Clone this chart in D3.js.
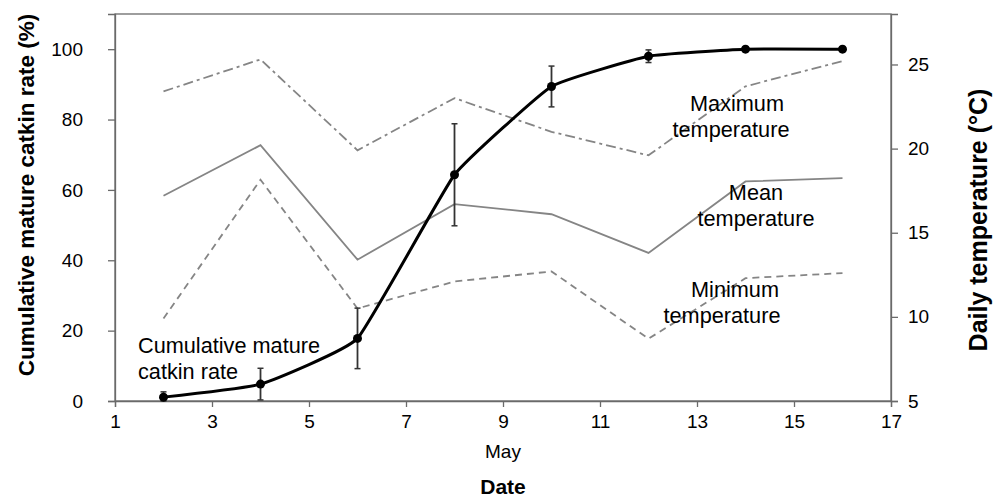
<!DOCTYPE html>
<html>
<head>
<meta charset="utf-8">
<script src="https://cdn.jsdelivr.net/npm/d3@7"></script>
<style>
  body { margin: 0; background: #fff; }
  text { font-family: "Liberation Sans", Arial, sans-serif; fill: #000; }
</style>
</head>
<body>
<svg id="chart" width="994" height="497"></svg>
<script>
// ---- data ----
const days = [2, 4, 6, 8, 10, 12, 14, 16];
const catkinRate = [1.1, 4.8, 17.8, 64.3, 89.4, 98.0, 100, 100];
const catkinErr = [1.5, 4.5, 8.6, 14.5, 5.8, 1.8, 0.6, 0.6];
const maxTemp = [23.4, 25.3, 19.9, 23.0, 21.0, 19.6, 23.7, 25.2];
const meanTemp = [17.2, 20.2, 13.4, 16.7, 16.1, 13.8, 18.05, 18.25];
const minTemp = [9.9, 18.15, 10.5, 12.1, 12.7, 8.7, 12.3, 12.6];
const xTicks = [1, 3, 5, 7, 9, 11, 13, 15, 17];
const yLeftTicks = [0, 20, 40, 60, 80, 100];
const yRightTicks = [5, 10, 15, 20, 25];

const svg = d3.select("#chart");
const L = 115, R = 891, T = 14, B = 401;

const x = d3.scaleLinear().domain([1, 17]).range([L, R]);
const yL = d3.scaleLinear().domain([0, 110]).range([B, T]);
const yR = d3.scaleLinear().domain([5, 28]).range([B, T]);

const axisColor = "#6a6a6a";

// plot frame
svg.append("rect").attr("x", L).attr("y", T).attr("width", R - L).attr("height", B - T)
  .attr("fill", "none").attr("stroke", axisColor).attr("stroke-width", 1.3);

// axes
const xAxis = svg.append("g").attr("transform", `translate(0,${B})`)
  .call(d3.axisBottom(x).tickValues(xTicks).tickSize(6).tickPadding(8));
const yAxisL = svg.append("g").attr("transform", `translate(${L},0)`)
  .call(d3.axisLeft(yL).tickValues(yLeftTicks).tickSize(7).tickPadding(32));
const yAxisR = svg.append("g").attr("transform", `translate(${R},0)`)
  .call(d3.axisRight(yR).tickValues(yRightTicks).tickSize(7).tickPadding(10));

[xAxis, yAxisL, yAxisR].forEach(g => {
  g.select(".domain").attr("stroke", axisColor).attr("stroke-width", 1.3);
  g.selectAll(".tick line").attr("stroke", axisColor).attr("stroke-width", 1.3);
  g.selectAll(".tick text").attr("font-size", 19).attr("fill", "#111")
    .style("font-family", "'Liberation Sans', Arial, sans-serif");
});
yAxisL.selectAll(".tick text").attr("text-anchor", "end").attr("x", -32);
xAxis.selectAll(".tick text").attr("dy", "0.71em");

// temperature lines
const lineR = d3.line().x((d, i) => x(days[i])).y(d => yR(d));
const tempColor = "#858585";
svg.append("path").datum(maxTemp).attr("d", lineR).attr("fill", "none")
  .attr("stroke", tempColor).attr("stroke-width", 1.8).attr("stroke-dasharray", "10,4,3,4");
svg.append("path").datum(meanTemp).attr("d", lineR).attr("fill", "none")
  .attr("stroke", tempColor).attr("stroke-width", 1.8);
svg.append("path").datum(minTemp).attr("d", lineR).attr("fill", "none")
  .attr("stroke", tempColor).attr("stroke-width", 1.8).attr("stroke-dasharray", "7,5");

// error bars
const eb = svg.append("g");
days.forEach((d, i) => {
  const cx = x(d);
  const lo = Math.max(0, catkinRate[i] - catkinErr[i]);
  const hi = catkinRate[i] + catkinErr[i];
  eb.append("line").attr("x1", cx).attr("x2", cx).attr("y1", yL(lo)).attr("y2", yL(hi))
    .attr("stroke", "#333").attr("stroke-width", 1.8);
  [lo, hi].forEach(v => eb.append("line").attr("x1", cx - 3).attr("x2", cx + 3)
    .attr("y1", yL(v)).attr("y2", yL(v)).attr("stroke", "#333").attr("stroke-width", 1.5));
});

// catkin line
const lineL = d3.line().x((d, i) => x(days[i])).y(d => yL(d)).curve(d3.curveCardinal.tension(0.65));
svg.append("path").datum(catkinRate).attr("d", lineL).attr("fill", "none")
  .attr("stroke", "#000").attr("stroke-width", 3);
svg.selectAll("circle.pt").data(catkinRate).enter().append("circle")
  .attr("cx", (d, i) => x(days[i])).attr("cy", d => yL(d)).attr("r", 4.5).attr("fill", "#000");

// in-plot labels
function label(lines, anchorX, baseY, anchor) {
  lines.forEach((t, i) => {
    svg.append("text").attr("x", Array.isArray(anchorX) ? anchorX[i] : anchorX)
      .attr("y", baseY + i * 26).attr("font-size", 21.7)
      .attr("text-anchor", anchor || "middle").text(t);
  });
}
label(["Cumulative mature", "catkin rate"], 138, 353, "start");
label(["Maximum", "temperature"], [737, 731], 111);
label(["Mean", "temperature"], 756, 200);
label(["Minimum", "temperature"], [735, 722], 297);

// axis titles
svg.append("text").attr("x", 503).attr("y", 458).attr("font-size", 19)
  .attr("text-anchor", "middle").text("May");
svg.append("text").attr("x", 503).attr("y", 494).attr("font-size", 21).attr("font-weight", "bold")
  .attr("text-anchor", "middle").text("Date");
svg.append("text").attr("transform", "translate(34,195) rotate(-90)").attr("font-size", 22.5)
  .attr("font-weight", "bold").attr("text-anchor", "middle").text("Cumulative mature catkin rate (%)");
svg.append("text").attr("transform", "translate(987,220) rotate(-90)").attr("font-size", 25)
  .attr("font-weight", "bold").attr("text-anchor", "middle").text("Daily temperature (°C)");
</script>
</body>
</html>
